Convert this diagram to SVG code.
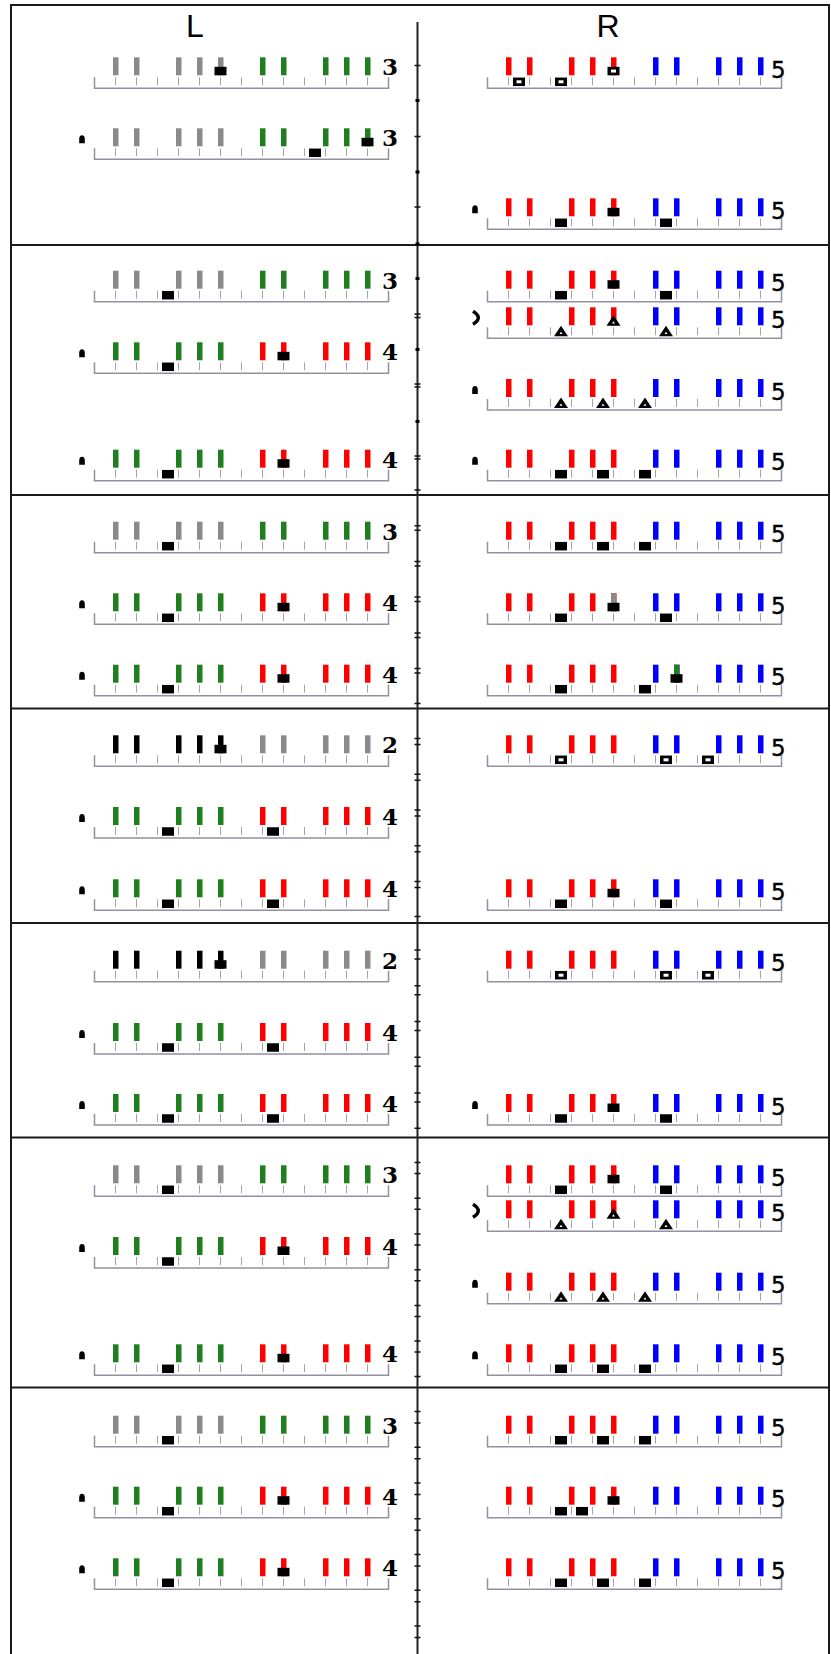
<svg xmlns="http://www.w3.org/2000/svg" width="831" height="1654" viewBox="0 0 831 1654">
<style>
.bd{fill:none;stroke:#1a1a1a;stroke-width:2}
.ax{stroke:#222;stroke-width:2;fill:none}
.mk{stroke:#111;stroke-width:1.5;fill:none}
.base{fill:none;stroke:#958fa0;stroke-width:1.5}
.tk{stroke:#a8a2ad;stroke-width:1}
.g{fill:#8a8a8a}.gn{fill:#1f7f1f}.r{fill:#ff0000}.b{fill:#0000ff}.k{fill:#000}
.nl{font-family:"DejaVu Serif","Liberation Serif",serif;font-weight:bold;font-size:23px;fill:#000}
.nr{font-family:"DejaVu Sans","Liberation Sans",sans-serif;font-size:23px;fill:#000;stroke:#000;stroke-width:0.4}
.t{font-family:"Liberation Sans",Arial,sans-serif;font-size:32px;text-anchor:middle;fill:#000}
</style>
<defs>
<g id="ruler"><path class="base" d="M0,-11V0H294V-11"/><path class="tk" d="M21,-11v8M42,-11v8M63,-11v8M84,-11v8M105,-11v8M126,-11v8M147,-11v8M168,-11v8M189,-11v8M210,-11v8M231,-11v8M252,-11v8M273,-11v8"/></g>
<g id="b5L"><rect x="18.5" y="-31" width="5.5" height="18"/><rect x="39.5" y="-31" width="5.5" height="18"/><rect x="81.5" y="-31" width="5.5" height="18"/><rect x="102.5" y="-31" width="5.5" height="18"/><rect x="123.5" y="-31" width="5.5" height="18"/></g>
<g id="b5R"><rect x="165.5" y="-31" width="5.5" height="18"/><rect x="186.5" y="-31" width="5.5" height="18"/><rect x="228.5" y="-31" width="5.5" height="18"/><rect x="249.5" y="-31" width="5.5" height="18"/><rect x="270.5" y="-31" width="5.5" height="18"/></g>
<rect id="fr" x="-6" y="-4.25" width="12" height="8.5" fill="#000"/>
<g id="hr"><rect x="-6" y="-4.25" width="12" height="8.5" fill="#000"/><rect x="-2.5" y="-1.5" width="5" height="3" fill="#fff"/></g>
<g id="tri"><path d="M0,-5.5L7,5H-7Z" fill="#000"/><path d="M0,0.5L1.5,2.8H-1.5Z" fill="#fff"/></g>
<path id="pawn" d="M-2.8,-16V-20Q-2.8,-24 0,-24Q2.8,-24 2.8,-20V-16Z" fill="#000"/>
<path id="paren" d="M-14.5,-27Q-4,-20.5 -14.5,-14" fill="none" stroke="#000" stroke-width="3.5"/>
</defs>
<rect width="831" height="1654" fill="#fff"/>
<g id="frame">
<path class="bd" d="M11,1654V5H829V1654"/>
<path class="bd" d="M11,245H829M11,495H829M11,708.5H829M11,923H829M11,1137.5H829M11,1387.5H829"/>
<text class="t" x="195" y="36.7">L</text>
<text class="t" x="608" y="37">R</text>
</g>
<g id="connectors">
<path class="ax" d="M417.5,22V1654"/>
<path class="mk" d="M414.5,65.5h6M414.5,136.5h6M414.5,207h6M414.5,314h6M414.5,317.5h6M414.5,384h6M414.5,387h6M414.5,456h6M414.5,459h6M414.5,490h6M414.5,525.7h6M414.5,530.2h6M414.5,561.4h6M414.5,565.9h6M414.5,597.1h6M414.5,601.6h6M414.5,632.9h6M414.5,637.4h6M414.5,668.6h6M414.5,673.1h6M414.5,703.5h6M414.5,738.6h6M414.5,744.6h6M414.5,774.3h6M414.5,780.3h6M414.5,810h6M414.5,816h6M414.5,845.8h6M414.5,851.8h6M414.5,881.5h6M414.5,887.5h6M414.5,916.5h6M414.5,950h6M414.5,959h6M414.5,985.8h6M414.5,994.8h6M414.5,1021.5h6M414.5,1030.5h6M414.5,1057.2h6M414.5,1066.2h6M414.5,1093h6M414.5,1102h6M414.5,1128.3h6M414.5,1162.4h6M414.5,1173.4h6M414.5,1198.2h6M414.5,1209.2h6M414.5,1233.9h6M414.5,1244.9h6M414.5,1269.7h6M414.5,1280.7h6M414.5,1305.4h6M414.5,1316.4h6M414.5,1341.1h6M414.5,1352.1h6M414.5,1376.4h6M414.5,1411.6h6M414.5,1423.1h6M414.5,1447.3h6M414.5,1458.8h6M414.5,1483.1h6M414.5,1494.6h6M414.5,1518.8h6M414.5,1530.3h6M414.5,1554.6h6M414.5,1566.1h6M414.5,1590.3h6M414.5,1601.8h6M414.5,1626h6M414.5,1637.5h6"/>
<g fill="#000"><rect x="415.5" y="99" width="4" height="3"/><rect x="415.5" y="170.5" width="4" height="3"/><rect x="415.5" y="242.5" width="4" height="3"/><rect x="415.5" y="277" width="4" height="3"/><rect x="415.5" y="348" width="4" height="3"/><rect x="415.5" y="420" width="4" height="3"/></g>
</g>
<g id="L-k0" transform="translate(94.5,88.3)"><use href="#ruler"/><use href="#b5L" class="g"/><use href="#b5R" class="gn"/><use href="#fr" x="126" y="-17.25"/><text class="nl" x="287.5" y="-13">3</text></g>
<g id="L-k2" transform="translate(94.5,159.3)"><use href="#ruler"/><use href="#b5L" class="g"/><use href="#b5R" class="gn"/><use href="#pawn" x="-12.5"/><use href="#fr" x="273" y="-17.25"/><use href="#fr" x="220.5" y="-6.5"/><text class="nl" x="287.5" y="-13">3</text></g>
<g id="L-k6" transform="translate(94.5,301.7)"><use href="#ruler"/><use href="#b5L" class="g"/><use href="#b5R" class="gn"/><use href="#fr" x="73.5" y="-6.5"/><text class="nl" x="287.5" y="-13">3</text></g>
<g id="L-k8" transform="translate(94.5,373.3)"><use href="#ruler"/><use href="#b5L" class="gn"/><use href="#b5R" class="r"/><use href="#pawn" x="-12.5"/><use href="#fr" x="189" y="-17.25"/><use href="#fr" x="73.5" y="-6.5"/><text class="nl" x="287.5" y="-13">4</text></g>
<g id="L-k11" transform="translate(94.5,480.7)"><use href="#ruler"/><use href="#b5L" class="gn"/><use href="#b5R" class="r"/><use href="#pawn" x="-12.5"/><use href="#fr" x="189" y="-17.25"/><use href="#fr" x="73.5" y="-6.5"/><text class="nl" x="287.5" y="-13">4</text></g>
<g id="L-k13" transform="translate(94.5,552.7)"><use href="#ruler"/><use href="#b5L" class="g"/><use href="#b5R" class="gn"/><use href="#fr" x="73.5" y="-6.5"/><text class="nl" x="287.5" y="-13">3</text></g>
<g id="L-k15" transform="translate(94.5,624.3)"><use href="#ruler"/><use href="#b5L" class="gn"/><use href="#b5R" class="r"/><use href="#pawn" x="-12.5"/><use href="#fr" x="189" y="-17.25"/><use href="#fr" x="73.5" y="-6.5"/><text class="nl" x="287.5" y="-13">4</text></g>
<g id="L-k17" transform="translate(94.5,695.7)"><use href="#ruler"/><use href="#b5L" class="gn"/><use href="#b5R" class="r"/><use href="#pawn" x="-12.5"/><use href="#fr" x="189" y="-17.25"/><use href="#fr" x="73.5" y="-6.5"/><text class="nl" x="287.5" y="-13">4</text></g>
<g id="L-k19" transform="translate(94.5,766.3)"><use href="#ruler"/><use href="#b5L" class="k"/><use href="#b5R" class="g"/><use href="#fr" x="126" y="-17.25"/><text class="nl" x="287.5" y="-13">2</text></g>
<g id="L-k21" transform="translate(94.5,838)"><use href="#ruler"/><use href="#b5L" class="gn"/><use href="#b5R" class="r"/><use href="#pawn" x="-12.5"/><use href="#fr" x="73.5" y="-6.5"/><use href="#fr" x="178.5" y="-6.5"/><text class="nl" x="287.5" y="-13">4</text></g>
<g id="L-k23" transform="translate(94.5,910.3)"><use href="#ruler"/><use href="#b5L" class="gn"/><use href="#b5R" class="r"/><use href="#pawn" x="-12.5"/><use href="#fr" x="73.5" y="-6.5"/><use href="#fr" x="178.5" y="-6.5"/><text class="nl" x="287.5" y="-13">4</text></g>
<g id="L-k25" transform="translate(94.5,981.7)"><use href="#ruler"/><use href="#b5L" class="k"/><use href="#b5R" class="g"/><use href="#fr" x="126" y="-17.25"/><text class="nl" x="287.5" y="-13">2</text></g>
<g id="L-k27" transform="translate(94.5,1054)"><use href="#ruler"/><use href="#b5L" class="gn"/><use href="#b5R" class="r"/><use href="#pawn" x="-12.5"/><use href="#fr" x="73.5" y="-6.5"/><use href="#fr" x="178.5" y="-6.5"/><text class="nl" x="287.5" y="-13">4</text></g>
<g id="L-k29" transform="translate(94.5,1125)"><use href="#ruler"/><use href="#b5L" class="gn"/><use href="#b5R" class="r"/><use href="#pawn" x="-12.5"/><use href="#fr" x="73.5" y="-6.5"/><use href="#fr" x="178.5" y="-6.5"/><text class="nl" x="287.5" y="-13">4</text></g>
<g id="L-k31" transform="translate(94.5,1196.3)"><use href="#ruler"/><use href="#b5L" class="g"/><use href="#b5R" class="gn"/><use href="#fr" x="73.5" y="-6.5"/><text class="nl" x="287.5" y="-13">3</text></g>
<g id="L-k33" transform="translate(94.5,1268)"><use href="#ruler"/><use href="#b5L" class="gn"/><use href="#b5R" class="r"/><use href="#pawn" x="-12.5"/><use href="#fr" x="189" y="-17.25"/><use href="#fr" x="73.5" y="-6.5"/><text class="nl" x="287.5" y="-13">4</text></g>
<g id="L-k36" transform="translate(94.5,1375.3)"><use href="#ruler"/><use href="#b5L" class="gn"/><use href="#b5R" class="r"/><use href="#pawn" x="-12.5"/><use href="#fr" x="189" y="-17.25"/><use href="#fr" x="73.5" y="-6.5"/><text class="nl" x="287.5" y="-13">4</text></g>
<g id="L-k38" transform="translate(94.5,1446.7)"><use href="#ruler"/><use href="#b5L" class="g"/><use href="#b5R" class="gn"/><use href="#fr" x="73.5" y="-6.5"/><text class="nl" x="287.5" y="-13">3</text></g>
<g id="L-k40" transform="translate(94.5,1517.7)"><use href="#ruler"/><use href="#b5L" class="gn"/><use href="#b5R" class="r"/><use href="#pawn" x="-12.5"/><use href="#fr" x="189" y="-17.25"/><use href="#fr" x="73.5" y="-6.5"/><text class="nl" x="287.5" y="-13">4</text></g>
<g id="L-k42" transform="translate(94.5,1589.3)"><use href="#ruler"/><use href="#b5L" class="gn"/><use href="#b5R" class="r"/><use href="#pawn" x="-12.5"/><use href="#fr" x="189" y="-17.25"/><use href="#fr" x="73.5" y="-6.5"/><text class="nl" x="287.5" y="-13">4</text></g>
<g id="R-k0" transform="translate(487.5,88.3)"><use href="#ruler"/><use href="#b5L" class="r"/><use href="#b5R" class="b"/><use href="#hr" x="31.5" y="-6.5"/><use href="#hr" x="73.5" y="-6.5"/><use href="#hr" x="126" y="-17.25"/><text class="nr" x="283.5" y="-10.5">5</text></g>
<g id="R-k4" transform="translate(487.5,229.3)"><use href="#ruler"/><use href="#b5L" class="r"/><use href="#b5R" class="b"/><use href="#pawn" x="-12.5"/><use href="#fr" x="73.5" y="-6.5"/><use href="#fr" x="178.5" y="-6.5"/><use href="#fr" x="126" y="-17.25"/><text class="nr" x="283.5" y="-10.5">5</text></g>
<g id="R-k6" transform="translate(487.5,301.7)"><use href="#ruler"/><use href="#b5L" class="r"/><use href="#b5R" class="b"/><use href="#fr" x="73.5" y="-6.5"/><use href="#fr" x="178.5" y="-6.5"/><use href="#fr" x="126" y="-17.25"/><text class="nr" x="283.5" y="-10.5">5</text></g>
<g id="R-k7" transform="translate(487.5,338.3)"><use href="#ruler"/><use href="#b5L" class="r"/><use href="#b5R" class="b"/><use href="#paren"/><use href="#tri" x="73.5" y="-7"/><use href="#tri" x="178.5" y="-7"/><use href="#tri" x="126" y="-17.5"/><text class="nr" x="283.5" y="-10.5">5</text></g>
<g id="R-k9" transform="translate(487.5,410)"><use href="#ruler"/><use href="#b5L" class="r"/><use href="#b5R" class="b"/><use href="#pawn" x="-12.5"/><use href="#tri" x="73.5" y="-7"/><use href="#tri" x="115.5" y="-7"/><use href="#tri" x="157.5" y="-7"/><text class="nr" x="283.5" y="-10.5">5</text></g>
<g id="R-k11" transform="translate(487.5,480.7)"><use href="#ruler"/><use href="#b5L" class="r"/><use href="#b5R" class="b"/><use href="#pawn" x="-12.5"/><use href="#fr" x="73.5" y="-6.5"/><use href="#fr" x="115.5" y="-6.5"/><use href="#fr" x="157.5" y="-6.5"/><text class="nr" x="283.5" y="-10.5">5</text></g>
<g id="R-k13" transform="translate(487.5,552.7)"><use href="#ruler"/><use href="#b5L" class="r"/><use href="#b5R" class="b"/><use href="#fr" x="73.5" y="-6.5"/><use href="#fr" x="115.5" y="-6.5"/><use href="#fr" x="157.5" y="-6.5"/><text class="nr" x="283.5" y="-10.5">5</text></g>
<g id="R-k15" transform="translate(487.5,624.3)"><use href="#ruler"/><use href="#b5L" class="r"/><use href="#b5R" class="b"/><rect class="g" x="123.5" y="-31" width="5.5" height="18"/><use href="#fr" x="126" y="-17.25"/><use href="#fr" x="73.5" y="-6.5"/><use href="#fr" x="178.5" y="-6.5"/><text class="nr" x="283.5" y="-10.5">5</text></g>
<g id="R-k17" transform="translate(487.5,695.7)"><use href="#ruler"/><use href="#b5L" class="r"/><use href="#b5R" class="b"/><rect class="gn" x="186.5" y="-31" width="5.5" height="18"/><use href="#fr" x="189" y="-17.25"/><use href="#fr" x="73.5" y="-6.5"/><use href="#fr" x="157.5" y="-6.5"/><text class="nr" x="283.5" y="-10.5">5</text></g>
<g id="R-k19" transform="translate(487.5,766.3)"><use href="#ruler"/><use href="#b5L" class="r"/><use href="#b5R" class="b"/><use href="#hr" x="73.5" y="-6.5"/><use href="#hr" x="178.5" y="-6.5"/><use href="#hr" x="220.5" y="-6.5"/><text class="nr" x="283.5" y="-10.5">5</text></g>
<g id="R-k23" transform="translate(487.5,910.3)"><use href="#ruler"/><use href="#b5L" class="r"/><use href="#b5R" class="b"/><use href="#fr" x="126" y="-17.25"/><use href="#fr" x="73.5" y="-6.5"/><use href="#fr" x="178.5" y="-6.5"/><text class="nr" x="283.5" y="-10.5">5</text></g>
<g id="R-k25" transform="translate(487.5,981.7)"><use href="#ruler"/><use href="#b5L" class="r"/><use href="#b5R" class="b"/><use href="#hr" x="73.5" y="-6.5"/><use href="#hr" x="178.5" y="-6.5"/><use href="#hr" x="220.5" y="-6.5"/><text class="nr" x="283.5" y="-10.5">5</text></g>
<g id="R-k29" transform="translate(487.5,1125)"><use href="#ruler"/><use href="#b5L" class="r"/><use href="#b5R" class="b"/><use href="#pawn" x="-12.5"/><use href="#fr" x="126" y="-17.25"/><use href="#fr" x="73.5" y="-6.5"/><use href="#fr" x="178.5" y="-6.5"/><text class="nr" x="283.5" y="-10.5">5</text></g>
<g id="R-k31" transform="translate(487.5,1196.3)"><use href="#ruler"/><use href="#b5L" class="r"/><use href="#b5R" class="b"/><use href="#fr" x="126" y="-17.25"/><use href="#fr" x="73.5" y="-6.5"/><use href="#fr" x="178.5" y="-6.5"/><text class="nr" x="283.5" y="-10.5">5</text></g>
<g id="R-k32" transform="translate(487.5,1231.3)"><use href="#ruler"/><use href="#b5L" class="r"/><use href="#b5R" class="b"/><use href="#paren"/><use href="#tri" x="126" y="-17.5"/><use href="#tri" x="73.5" y="-7"/><use href="#tri" x="178.5" y="-7"/><text class="nr" x="283.5" y="-10.5">5</text></g>
<g id="R-k34" transform="translate(487.5,1303.7)"><use href="#ruler"/><use href="#b5L" class="r"/><use href="#b5R" class="b"/><use href="#pawn" x="-12.5"/><use href="#tri" x="73.5" y="-7"/><use href="#tri" x="115.5" y="-7"/><use href="#tri" x="157.5" y="-7"/><text class="nr" x="283.5" y="-10.5">5</text></g>
<g id="R-k36" transform="translate(487.5,1375.3)"><use href="#ruler"/><use href="#b5L" class="r"/><use href="#b5R" class="b"/><use href="#pawn" x="-12.5"/><use href="#fr" x="73.5" y="-6.5"/><use href="#fr" x="115.5" y="-6.5"/><use href="#fr" x="157.5" y="-6.5"/><text class="nr" x="283.5" y="-10.5">5</text></g>
<g id="R-k38" transform="translate(487.5,1446.7)"><use href="#ruler"/><use href="#b5L" class="r"/><use href="#b5R" class="b"/><use href="#fr" x="73.5" y="-6.5"/><use href="#fr" x="115.5" y="-6.5"/><use href="#fr" x="157.5" y="-6.5"/><text class="nr" x="283.5" y="-10.5">5</text></g>
<g id="R-k40" transform="translate(487.5,1517.7)"><use href="#ruler"/><use href="#b5L" class="r"/><use href="#b5R" class="b"/><use href="#fr" x="126" y="-17.25"/><use href="#fr" x="73.5" y="-6.5"/><use href="#fr" x="94.5" y="-6.5"/><text class="nr" x="283.5" y="-10.5">5</text></g>
<g id="R-k42" transform="translate(487.5,1589.3)"><use href="#ruler"/><use href="#b5L" class="r"/><use href="#b5R" class="b"/><use href="#fr" x="73.5" y="-6.5"/><use href="#fr" x="115.5" y="-6.5"/><use href="#fr" x="157.5" y="-6.5"/><text class="nr" x="283.5" y="-10.5">5</text></g>
</svg>
